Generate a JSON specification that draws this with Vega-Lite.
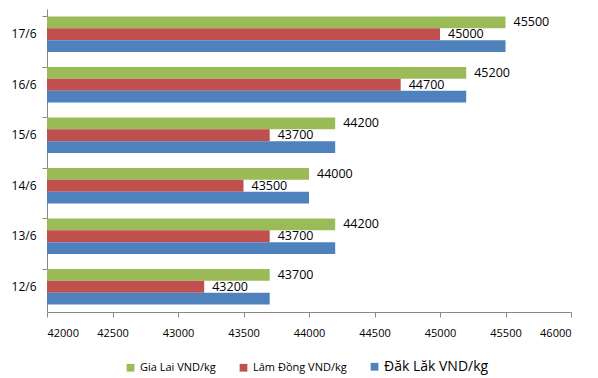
{
  "$schema": "https://vega.github.io/schema/vega-lite/v6.json",
  "width": 524,
  "height": 303,
  "autosize": "none",
  "padding": {"left": 47, "top": 9, "right": 27, "bottom": 66},
  "background": "white",
  "config": {"view": {"stroke": null}, "font": "Open Sans"},
  "data": {"values": [
    {"date": "17/6", "series": "Gia Lai VND/kg", "ord": 1, "price": 45500},
    {"date": "17/6", "series": "Lâm Đồng VND/kg", "ord": 2, "price": 45000},
    {"date": "17/6", "series": "Đăk Lăk  VND/kg", "ord": 3, "price": 45500},
    {"date": "16/6", "series": "Gia Lai VND/kg", "ord": 1, "price": 45200},
    {"date": "16/6", "series": "Lâm Đồng VND/kg", "ord": 2, "price": 44700},
    {"date": "16/6", "series": "Đăk Lăk  VND/kg", "ord": 3, "price": 45200},
    {"date": "15/6", "series": "Gia Lai VND/kg", "ord": 1, "price": 44200},
    {"date": "15/6", "series": "Lâm Đồng VND/kg", "ord": 2, "price": 43700},
    {"date": "15/6", "series": "Đăk Lăk  VND/kg", "ord": 3, "price": 44200},
    {"date": "14/6", "series": "Gia Lai VND/kg", "ord": 1, "price": 44000},
    {"date": "14/6", "series": "Lâm Đồng VND/kg", "ord": 2, "price": 43500},
    {"date": "14/6", "series": "Đăk Lăk  VND/kg", "ord": 3, "price": 44000},
    {"date": "13/6", "series": "Gia Lai VND/kg", "ord": 1, "price": 44200},
    {"date": "13/6", "series": "Lâm Đồng VND/kg", "ord": 2, "price": 43700},
    {"date": "13/6", "series": "Đăk Lăk  VND/kg", "ord": 3, "price": 44200},
    {"date": "12/6", "series": "Gia Lai VND/kg", "ord": 1, "price": 43700},
    {"date": "12/6", "series": "Lâm Đồng VND/kg", "ord": 2, "price": 43200},
    {"date": "12/6", "series": "Đăk Lăk  VND/kg", "ord": 3, "price": 43700}
  ]},
  "encoding": {
    "y": {
      "field": "date", "type": "nominal",
      "sort": ["17/6", "16/6", "15/6", "14/6", "13/6", "12/6"],
      "scale": {"paddingInner": 0.3, "paddingOuter": 0.15},
      "axis": {"title": null, "bandPosition": 0, "domainColor": "#888888", "tickColor": "#888888", "tickSize": 5, "labelFontSize": 12, "labelColor": "#000000", "labelPadding": 6, "grid": false}
    },
    "yOffset": {"field": "ord", "type": "ordinal", "sort": "ascending"},
    "x": {
      "field": "price", "type": "quantitative",
      "scale": {"domain": [42000, 46000], "nice": false, "zero": false},
      "axis": {"title": null, "values": [42000, 42500, 43000, 43500, 44000, 44500, 45000, 45500, 46000], "format": "d", "grid": false, "domainColor": "#888888", "tickColor": "#888888", "tickSize": 5, "labelFontSize": 11, "labelColor": "#000000", "labelPadding": 10}
    }
  },
  "layer": [
    {
      "mark": {"type": "bar"},
      "encoding": {
        "x2": {"datum": 42000},
        "color": {
          "field": "series", "type": "nominal",
          "sort": ["Gia Lai VND/kg", "Lâm Đồng VND/kg", "Đăk Lăk  VND/kg"],
          "scale": {"domain": ["Gia Lai VND/kg", "Lâm Đồng VND/kg", "Đăk Lăk  VND/kg"], "range": ["#9BBB59", "#C0504D", "#4F81BD"]},
          "legend": {
            "title": null, "orient": "none", "direction": "horizontal", "legendX": 78, "legendY": 352,
            "symbolType": "square", "symbolSize": 60, "symbolStrokeWidth": 0,
            "labelFontSize": 11, "labelColor": "#000000", "columnPadding": 22, "symbolOffset": 0,
            "labelExpr": "datum.label",
            "encode": {"labels": {"update": {"fontSize": {"signal": "datum.label == 'Đăk Lăk  VND/kg' ? 14 : 11"}}}}
          }
        }
      }
    },
    {
      "transform": [{"filter": "datum.ord < 3"}],
      "mark": {"type": "text", "align": "left", "dx": 8, "fontSize": 12.5, "color": "#000000"},
      "encoding": {"text": {"field": "price", "type": "quantitative", "format": "d"}}
    }
  ]
}
